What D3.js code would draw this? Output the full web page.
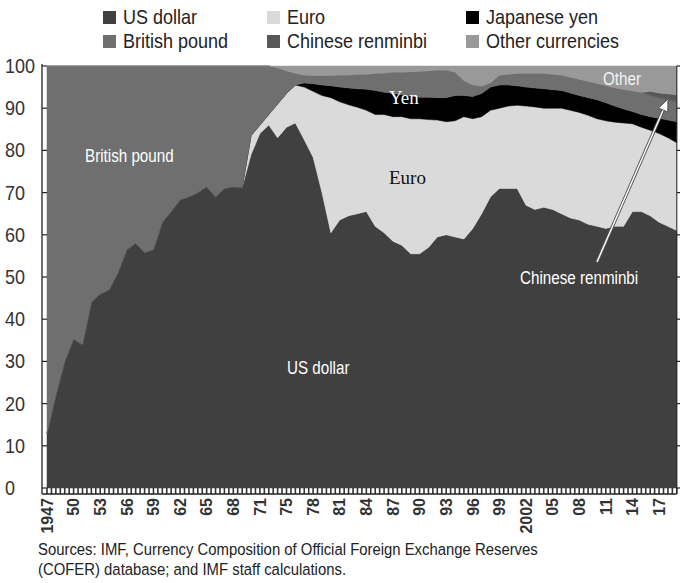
<!DOCTYPE html>
<html><head><meta charset="utf-8">
<script src="https://cdn.jsdelivr.net/npm/d3@7"></script>
<style>
body{margin:0;background:#fff;}
svg text{font-family:"Liberation Sans",Arial,sans-serif;}
</style></head><body>
<svg id="chart" width="680" height="583"></svg>
<script>
// ---- data (shares of allocated reserves, %) ----
const years = [1947,1948,1949,1950,1951,1952,1953,1954,1955,1956,1957,1958,1959,1960,1961,1962,1963,1964,1965,1966,1967,1968,1969,1970,1971,
  1973,1974,1975,1976,1977,1978,1979,1980,1981,1982,1983,1984,1985,1986,1987,1988,1989,1990,1991,1992,1993,1994,1995,1996,1997,1998,1999,
  2000,2001,2002,2003,2004,2005,2006,2007,2008,2009,2010,2011,2012,2013,2014,2015,2016,2017,2018,2019];
const tickYears = [1947,1950,1953,1956,1959,1962,1965,1968,1971,1975,1978,1981,1984,1987,1990,1993,1996,1999,2002,2005,2008,2011,2014,2017];
const tickLabels = ["1947","50","53","56","59","62","65","68","71","75","78","81","84","87","90","93","96","99","2002","05","08","11","14","17"];
const yTicks = [0,10,20,30,40,50,60,70,80,90,100];

const usDollar = [13,22,30,35.3,34,44,46,47,51,56.5,58,55.8,56.5,63,65.5,68.3,69,70,71.4,69,71,71.4,71.2,79,84,
  86,83,85.5,86.5,82.5,78.4,70,60.5,63.5,64.5,65,65.5,62,60.5,58.5,57.5,55.5,55.5,57,59.5,60,59.5,59,61.5,65,69,71,
  71,71,67,66,66.5,66,65,64,63.5,62.5,62,61.5,62,62,65.5,65.5,64.5,63,62,61];
const euro = [0,0,0,0,0,0,0,0,0,0,0,0,0,0,0,0,0,0,0,0,0,0,0,4.5,2,
  2.5,8,8,9,12.5,15.6,23,32,28,26.3,25.2,24,26.5,28,29.5,30.5,32,32,30.3,27.7,26.8,27.5,29,26,23,20.5,19,
  19.5,19.7,23.5,24.3,23.5,24,25,25.5,25.5,25.8,25.5,25.5,24.7,24.5,20.8,20,20.3,21,21,20.8];
const japaneseYen = [0,0,0,0,0,0,0,0,0,0,0,0,0,0,0,0,0,0,0,0,0,0,0,0,0,
  0,0,0,0,1,1.8,2.5,2.8,3.5,4,4.4,5,5.7,5.3,5.5,5.2,5.4,5.1,5.3,5.3,5.7,6,5,5.3,5.5,5.5,5.5,
  5,4.6,4.5,4.5,4.6,4.4,4.2,4.1,4,4.2,4.5,4.3,3.8,3.3,2.9,3,3.2,3.6,4.2,5];
const britishPound = [87,78,70,64.7,66,56,54,53,49,43.5,42,44.2,43.5,37,34.5,31.7,31,30,28.6,31,29,28.6,28.8,16.5,14,
  11.5,8.5,5.3,2.7,1.8,1.9,2.2,2.4,2.8,3,3.4,3.5,4,4.5,5,5.3,5.7,6.1,6.2,6.5,6.5,5.5,3.5,2.7,1.7,1,2.3,
  2.5,2.9,3.2,3.4,3.6,3.6,3.6,3.7,3.8,3.8,3.8,4,4.3,4.6,4.9,5.2,5,4.8,4.8,4.7];
const chineseRenminbi = [0,0,0,0,0,0,0,0,0,0,0,0,0,0,0,0,0,0,0,0,0,0,0,0,0,
  0,0,0,0,0,0,0,0,0,0,0,0,0,0,0,0,0,0,0,0,0,0,0,0,0,0,0,
  0,0,0,0,0,0,0,0,0,0,0,0,0,0,0,0,1,1.2,1.4,1.7];
const otherCurrencies = [0,0,0,0,0,0,0,0,0,0,0,0,0,0,0,0,0,0,0,0,0,0,0,0,0,
  0,0.5,1.2,1.8,2.2,2.3,2.3,2.3,2.2,2.2,2,2,1.8,1.7,1.5,1.5,1.4,1.3,1.2,1,1,1.5,3.5,4.5,4.8,4,2.2,
  2,1.8,1.8,1.8,1.8,2,2.2,2.7,3.2,3.7,4.2,4.7,5.2,5.6,5.9,6.3,6,6.4,6.6,6.8];

const seriesKeys = ["US dollar","Euro","Japanese yen","British pound","Chinese renminbi","Other currencies"];
const seriesValues = [usDollar, euro, japaneseYen, britishPound, chineseRenminbi, otherCurrencies];
const colors = {"US dollar":"#404040","Euro":"#dadada","Japanese yen":"#000000","British pound":"#6f6f6f","Chinese renminbi":"#585858","Other currencies":"#999999"};
const legendRows = [["US dollar","Euro","Japanese yen"],["British pound","Chinese renminbi","Other currencies"]];

// ---- build table ----
const table = years.map((yr,i)=>{
  const row = {year: yr};
  seriesKeys.forEach((k,j)=> row[k] = seriesValues[j][i]);
  return row;
});

const svg = d3.select("#chart");
const x = d3.scalePoint().domain(years).range([47, 676.8]);
const y = d3.scaleLinear().domain([0,100]).range([488, 66]);
const step = x.step();

// condensed text helper
function ctext(parent, tx, ty, str, size, sx, fill, family){
  const t = parent.append("text").attr("transform",`translate(${tx},${ty}) scale(${sx},1)`)
    .attr("font-size",size).attr("fill",fill).text(str);
  if(family) t.style("font-family",family);
  return t;
}

const stacked = d3.stack().keys(seriesKeys)(table);
const area = d3.area().x(d=>x(d.data.year)).y0(d=>y(d[0])).y1(d=>y(d[1]));

const plot = svg.append("g");
plot.selectAll("path").data(stacked).join("path")
  .attr("d", area).attr("fill", d=>colors[d.key])
  .attr("stroke", d=>colors[d.key]).attr("stroke-width",0.5);

// bottom tick strip
const minor = [];
years.forEach((yr,i)=>{ minor.push(x(yr)); if(i<years.length-1) minor.push(x(yr)+step/2); });
svg.append("g").selectAll("line").data(minor).join("line")
  .attr("x1",d=>d).attr("x2",d=>d).attr("y1",y(0)).attr("y2",y(0)+6)
  .attr("stroke","#333").attr("stroke-width",1.6);
svg.append("line").attr("x1",42).attr("x2",x(years[years.length-1])).attr("y1",y(0)+6).attr("y2",y(0)+6)
  .attr("stroke","#222").attr("stroke-width",1.5);

// left axis
const yAxis = svg.append("g");
yAxis.append("line").attr("x1",42).attr("x2",42).attr("y1",y(100)-2).attr("y2",y(0)+6).attr("stroke","#222").attr("stroke-width",1.3);
yAxis.selectAll("line.t").data(yTicks).join("line").attr("class","t")
  .attr("x1",42).attr("x2",47).attr("y1",d=>y(d)).attr("y2",d=>y(d)).attr("stroke","#222").attr("stroke-width",1.2);
yAxis.selectAll("text").data(yTicks).join("text")
  .attr("transform",d=>`translate(5,${y(d)+7}) scale(0.9,1)`).attr("font-size",20).attr("fill","#333")
  .text(d=>d);

// right axis
const xr = x(years[years.length-1]);
const rAxis = svg.append("g");
rAxis.append("line").attr("x1",xr).attr("x2",xr).attr("y1",y(100)).attr("y2",y(0)+6).attr("stroke","#222").attr("stroke-width",1);
rAxis.selectAll("line.t").data(yTicks).join("line").attr("class","t")
  .attr("x1",xr).attr("x2",xr+5).attr("y1",d=>y(d)).attr("y2",d=>y(d)).attr("stroke","#222").attr("stroke-width",1.2);

// x labels
svg.append("g").selectAll("text").data(tickYears).join("text")
  .attr("transform",(d)=>`translate(${x(d)},${y(0)+10}) rotate(-90)`)
  .attr("text-anchor","end").attr("dy","0.36em")
  .attr("font-size",16).attr("font-weight","bold").attr("fill","#333")
  .text((d,i)=>tickLabels[i]);

// legend
const legendX = [103, 267, 466];
const legendY = [17, 41];
legendRows.forEach((row,r)=>{
  row.forEach((k,c)=>{
    const g = svg.append("g").attr("transform",`translate(${legendX[c]},${legendY[r]})`);
    g.append("rect").attr("x",0).attr("y",-6).attr("width",13).attr("height",13).attr("fill",colors[k]);
    ctext(g, 20, 7, k, 20, 0.9, "#222");
  });
});

// annotations
const ann = svg.append("g");
ctext(ann, 85, 162, "British pound", 19, 0.8, "#fff");
ctext(ann, 287, 374, "US dollar", 19, 0.8, "#fff");
ctext(ann, 520, 284, "Chinese renminbi", 19, 0.8, "#fff");
ctext(ann, 603, 85, "Other", 19, 0.8, "#f2f2f2");
ann.append("text").attr("x",389).attr("y",184).attr("font-size",19).attr("fill","#111").style("font-family","'Liberation Serif','Times New Roman',serif").text("Euro");
ann.append("text").attr("x",389).attr("y",104).attr("font-size",19).attr("fill","#fff").style("font-family","'Liberation Serif','Times New Roman',serif").text("Yen");
// arrow
const ax1=597, ay1=262, ax2=668, ay2=99;
ann.append("line").attr("x1",ax1).attr("y1",ay1).attr("x2",ax2).attr("y2",ay2).attr("stroke","#555").attr("stroke-width",3.2);
ann.append("line").attr("x1",ax1).attr("y1",ay1).attr("x2",ax2).attr("y2",ay2).attr("stroke","#fff").attr("stroke-width",1.4);
const ang = Math.atan2(ay2-ay1, ax2-ax1);
const hl=12, hw=5;
const p1=[ax2,ay2];
const p2=[ax2-hl*Math.cos(ang)+hw*Math.sin(ang), ay2-hl*Math.sin(ang)-hw*Math.cos(ang)];
const p3=[ax2-hl*Math.cos(ang)-hw*Math.sin(ang), ay2-hl*Math.sin(ang)+hw*Math.cos(ang)];
ann.append("path").attr("d",`M${p1}L${p2}L${p3}Z`).attr("fill","#fff").attr("stroke","#555").attr("stroke-width",1);

// sources
const src = svg.append("g");
ctext(src, 38, 555, "Sources: IMF, Currency Composition of Official Foreign Exchange Reserves", 17, 0.875, "#222");
ctext(src, 38, 575, "(COFER) database; and IMF staff calculations.", 17, 0.875, "#222");
</script>
</body></html>
